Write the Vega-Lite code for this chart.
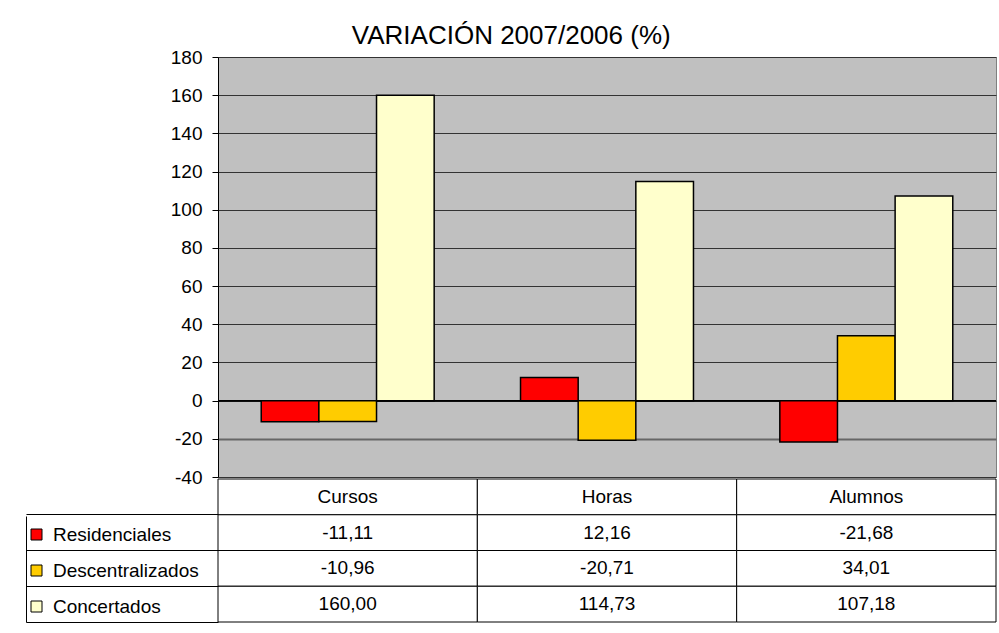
{
  "$schema": "https://vega.github.io/schema/vega-lite/v6.json",
  "background": "white",
  "padding": {"left": 25, "top": 22, "right": 2, "bottom": 5},
  "config": {
    "locale": {"number": {"decimal": ",", "thousands": ".", "grouping": [3], "currency": ["", " €"], "minus": "-"}},
    "font": "Liberation Sans",
    "view": {"stroke": null}
  },
  "title": {"text": "VARIACIÓN 2007/2006 (%)", "fontSize": 26, "fontWeight": "normal", "font": "Liberation Sans", "color": "black", "anchor": "middle", "frame": "bounds", "offset": -1},
  "datasets": {
    "vals": [
      {"categoria": "Cursos", "serie": "Residenciales", "valor": -11.11},
      {"categoria": "Cursos", "serie": "Descentralizados", "valor": -10.96},
      {"categoria": "Cursos", "serie": "Concertados", "valor": 160.00},
      {"categoria": "Horas", "serie": "Residenciales", "valor": 12.16},
      {"categoria": "Horas", "serie": "Descentralizados", "valor": -20.71},
      {"categoria": "Horas", "serie": "Concertados", "valor": 114.73},
      {"categoria": "Alumnos", "serie": "Residenciales", "valor": -21.68},
      {"categoria": "Alumnos", "serie": "Descentralizados", "valor": 34.01},
      {"categoria": "Alumnos", "serie": "Concertados", "valor": 107.18}
    ],
    "cats": [
      {"categoria": "Cursos"},
      {"categoria": "Horas"},
      {"categoria": "Alumnos"}
    ]
  },
  "columns": 1,
  "align": "none",
  "spacing": -10,
  "concat": [
    {
      "width": 778,
      "height": 420,
      "view": {"fill": "#C0C0C0", "stroke": "#808080", "strokeWidth": 1},
      "data": {"name": "vals"},
      "encoding": {
        "y": {
          "field": "valor", "type": "quantitative",
          "scale": {"domain": [-40, 180], "nice": false, "zero": false},
          "axis": {
            "values": [-40, -20, 0, 20, 40, 60, 80, 100, 120, 140, 160, 180],
            "grid": true,
            "gridColor": {"condition": {"test": "datum.value === -20", "value": "#666666"}, "value": "#333333"},
            "gridWidth": {"condition": {"test": "datum.value === -20", "value": 2}, "value": 1},
            "domainColor": "black", "domainWidth": 1,
            "tickColor": "black", "tickSize": 6,
            "labelFontSize": 19, "labelColor": "black", "labelPadding": 10,
            "labelFont": "Liberation Sans", "labelOverlap": false,
            "title": null
          }
        }
      },
      "layer": [
        {
          "mark": {"type": "rule", "color": "black", "strokeWidth": 1},
          "encoding": {"y": {"datum": 0, "type": "quantitative"}}
        },
        {
          "mark": {"type": "bar", "stroke": "black", "strokeWidth": 1.5},
          "encoding": {
            "x": {"field": "categoria", "type": "nominal", "sort": ["Cursos", "Horas", "Alumnos"], "scale": {"paddingInner": 0.333, "paddingOuter": 0.1667}, "axis": null},
            "xOffset": {"field": "serie", "type": "nominal", "sort": ["Residenciales", "Descentralizados", "Concertados"], "scale": {"paddingInner": 0, "paddingOuter": 0}},
            "color": {
              "field": "serie", "type": "nominal",
              "scale": {"domain": ["Residenciales", "Descentralizados", "Concertados"], "range": ["#FF0000", "#FFCC00", "#FFFFCC"]},
              "legend": {
                "orient": "none", "legendX": -191, "legendY": 468,
                "title": null, "symbolType": "square", "symbolSize": 121,
                "symbolStrokeColor": "black", "symbolStrokeWidth": 1, "symbolOpacity": 1,
                "labelFontSize": 19, "labelColor": "black", "labelFont": "Liberation Sans",
                "labelOffset": 7, "rowPadding": 16, "padding": 0, "labelLimit": 300
              }
            }
          }
        }
      ]
    },
    {
      "width": 778,
      "height": 143,
      "resolve": {"axis": {"y": "independent"}},
      "layer": [
        {
          "data": {"name": "cats"},
          "mark": {"type": "rect", "fill": "white", "stroke": "black", "strokeWidth": 1},
          "encoding": {
            "x": {"field": "categoria", "type": "nominal", "sort": ["Cursos", "Horas", "Alumnos"], "scale": {"paddingInner": 0, "paddingOuter": 0}, "axis": null},
            "y": {
              "datum": "cabecera", "type": "nominal",
              "scale": {"domain": ["cabecera", "Residenciales", "Descentralizados", "Concertados"], "paddingInner": 0, "paddingOuter": 0},
              "axis": {"orient": "left", "bandPosition": 1, "tickSize": 192, "tickColor": "black", "tickWidth": 1, "labels": false, "domain": false, "grid": false, "title": null}
            }
          }
        },
        {
          "data": {"name": "vals"},
          "mark": {"type": "rect", "fill": "white", "stroke": "black", "strokeWidth": 1},
          "encoding": {
            "x": {"field": "categoria", "type": "nominal", "sort": ["Cursos", "Horas", "Alumnos"]},
            "y": {"field": "serie", "type": "nominal", "axis": null}
          }
        },
        {
          "data": {"name": "cats"},
          "mark": {"type": "text", "fontSize": 19, "color": "black", "font": "Liberation Sans"},
          "encoding": {
            "x": {"field": "categoria", "type": "nominal", "sort": ["Cursos", "Horas", "Alumnos"]},
            "y": {
              "datum": "cabecera", "type": "nominal",
              "axis": {"orient": "left", "offset": 192, "ticks": false, "labels": false, "domain": true, "domainColor": "black", "domainWidth": 1, "domainDash": [0, 37, 300], "grid": false, "title": null}
            },
            "text": {"field": "categoria"}
          }
        },
        {
          "data": {"name": "vals"},
          "mark": {"type": "text", "fontSize": 19, "color": "black", "font": "Liberation Sans"},
          "encoding": {
            "x": {"field": "categoria", "type": "nominal", "sort": ["Cursos", "Horas", "Alumnos"]},
            "y": {"field": "serie", "type": "nominal", "axis": null},
            "text": {"field": "valor", "type": "quantitative", "format": ".2f"}
          }
        }
      ]
    }
  ]
}
